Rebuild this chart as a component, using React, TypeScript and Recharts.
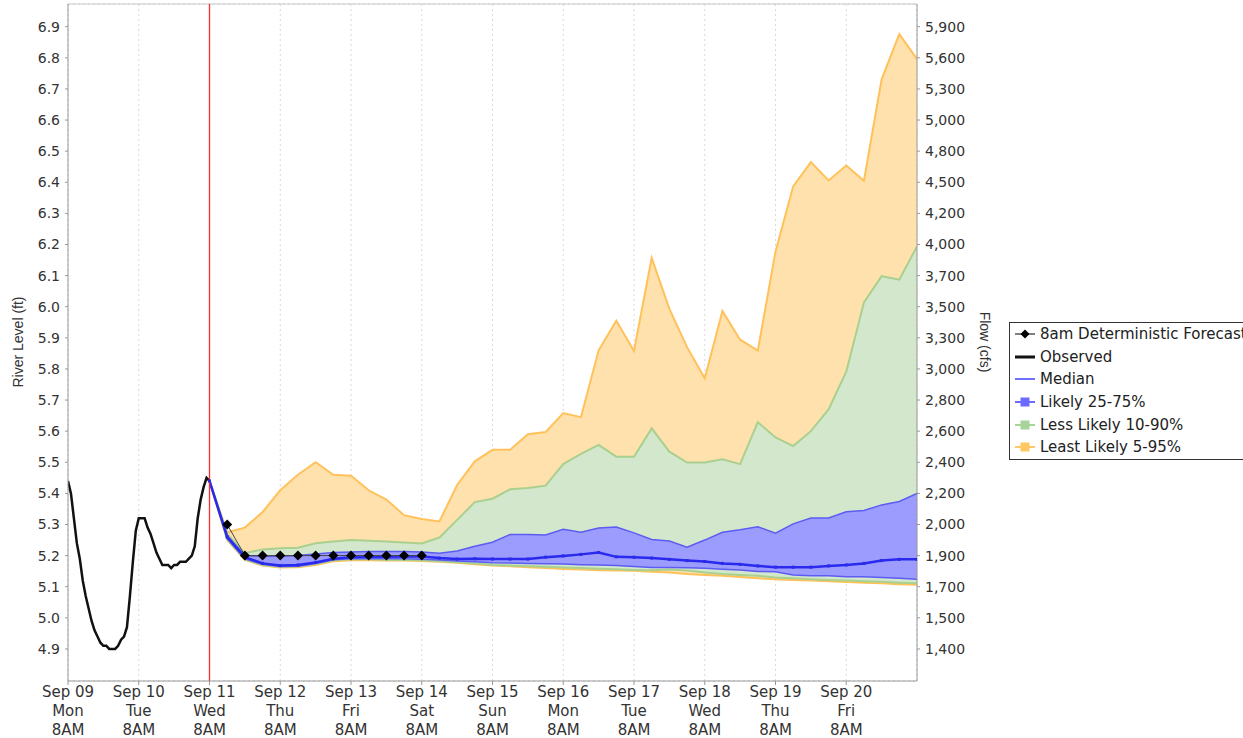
import React from 'react';
import {
  ComposedChart,
  Line,
  Area,
  XAxis,
  YAxis,
  CartesianGrid,
  ReferenceLine,
} from 'recharts';

// ---- Tick labels ----
const dateLabels = ['Sep 09', 'Sep 10', 'Sep 11', 'Sep 12', 'Sep 13', 'Sep 14', 'Sep 15', 'Sep 16', 'Sep 17', 'Sep 18', 'Sep 19', 'Sep 20'];
const dayLabels = ['Mon', 'Tue', 'Wed', 'Thu', 'Fri', 'Sat', 'Sun', 'Mon', 'Tue', 'Wed', 'Thu', 'Fri'];
const timeLabel = '8AM';
const dayTicks = [0, 24, 48, 72, 96, 120, 144, 168, 192, 216, 240, 264];
const levelTicks = [4.9, 5.0, 5.1, 5.2, 5.3, 5.4, 5.5, 5.6, 5.7, 5.8, 5.9, 6.0, 6.1, 6.2, 6.3, 6.4, 6.5, 6.6, 6.7, 6.8, 6.9];
const flowLabels = ['1,400', '1,500', '1,700', '1,900', '2,000', '2,200', '2,400', '2,600', '2,800', '3,000', '3,300', '3,500', '3,700', '4,000', '4,200', '4,500', '4,800', '5,000', '5,300', '5,600', '5,900'];

// ---- Observed river level, hourly from Sep 09 8AM ----
const observed = [
  5.44, 5.40, 5.32, 5.24, 5.19, 5.12, 5.07, 5.03, 4.99, 4.96, 4.94, 4.92, 4.91, 4.91, 4.90, 4.90, 4.90,
  4.91, 4.93, 4.94, 4.97, 5.07, 5.18, 5.28, 5.32, 5.32, 5.32, 5.29, 5.27, 5.24, 5.21, 5.19, 5.17, 5.17,
  5.17, 5.16, 5.17, 5.17, 5.18, 5.18, 5.18, 5.19, 5.20, 5.23, 5.32, 5.38, 5.42, 5.45, 5.44,
];

// ---- 8am deterministic forecast, every 6 h from Sep 11 2PM ----
const deterministic = [5.30, 5.20, 5.20, 5.20, 5.20, 5.20, 5.20, 5.20, 5.20, 5.20, 5.20, 5.20];

// ---- Ensemble percentiles, every 6 h from Sep 11 8AM ----
const p95 = [
  5.44, 5.275, 5.29, 5.34, 5.41, 5.46, 5.50, 5.46, 5.457, 5.41, 5.38, 5.33, 5.318, 5.31, 5.427, 5.503,
  5.54, 5.54, 5.59, 5.597, 5.658, 5.645, 5.86, 5.955, 5.858, 6.157, 5.993, 5.87, 5.77, 5.986, 5.894,
  5.859, 6.177, 6.387, 6.465, 6.406, 6.454, 6.405, 6.731, 6.876, 6.796,
];
const p90 = [
  5.44, 5.27, 5.208, 5.22, 5.224, 5.225, 5.24, 5.245, 5.25, 5.248, 5.245, 5.242, 5.239, 5.258, 5.315,
  5.372, 5.383, 5.413, 5.417, 5.425, 5.494, 5.527, 5.556, 5.518, 5.518, 5.609, 5.534, 5.499, 5.499, 5.51,
  5.494, 5.629, 5.58, 5.552, 5.6, 5.67, 5.791, 6.014, 6.098, 6.087, 6.194,
];
const p75 = [
  5.44, 5.265, 5.20, 5.198, 5.198, 5.20, 5.205, 5.21, 5.212, 5.213, 5.213, 5.213, 5.212, 5.208, 5.215,
  5.23, 5.243, 5.268, 5.268, 5.266, 5.285, 5.275, 5.289, 5.292, 5.273, 5.252, 5.247, 5.227, 5.25, 5.275,
  5.283, 5.293, 5.272, 5.302, 5.321, 5.321, 5.341, 5.345, 5.363, 5.374, 5.40,
];
const p50 = [
  5.44, 5.26, 5.195, 5.175, 5.168, 5.17, 5.178, 5.19, 5.195, 5.196, 5.196, 5.197, 5.197, 5.192, 5.189,
  5.19, 5.189, 5.189, 5.189, 5.195, 5.199, 5.204, 5.21, 5.196, 5.195, 5.192, 5.188, 5.184, 5.181, 5.175,
  5.172, 5.167, 5.163, 5.163, 5.163, 5.167, 5.17, 5.175, 5.184, 5.188, 5.188,
];
const p25 = [
  5.44, 5.255, 5.19, 5.172, 5.165, 5.166, 5.175, 5.187, 5.19, 5.19, 5.19, 5.19, 5.188, 5.186, 5.183,
  5.18, 5.177, 5.176, 5.175, 5.174, 5.173, 5.171, 5.17, 5.168, 5.165, 5.162, 5.162, 5.161, 5.159, 5.156,
  5.154, 5.149, 5.148, 5.138, 5.135, 5.135, 5.132, 5.132, 5.13, 5.127, 5.124,
];
const p10 = [
  5.44, 5.253, 5.188, 5.17, 5.164, 5.165, 5.173, 5.185, 5.188, 5.188, 5.187, 5.186, 5.185, 5.182, 5.179,
  5.175, 5.17, 5.168, 5.166, 5.164, 5.162, 5.16, 5.158, 5.156, 5.154, 5.153, 5.155, 5.152, 5.146, 5.141,
  5.138, 5.135, 5.13, 5.127, 5.124, 5.122, 5.12, 5.118, 5.116, 5.113, 5.111,
];
const p5 = [
  5.44, 5.25, 5.186, 5.168, 5.162, 5.163, 5.17, 5.182, 5.185, 5.185, 5.184, 5.184, 5.183, 5.18, 5.177,
  5.172, 5.168, 5.166, 5.163, 5.16, 5.157, 5.155, 5.153, 5.152, 5.151, 5.148, 5.146, 5.141, 5.138, 5.135,
  5.131, 5.127, 5.124, 5.122, 5.12, 5.118, 5.115, 5.113, 5.111, 5.108, 5.106,
];

const NOW_HOUR = 48;
const DET_START = 54;
const STEP = 6;

// Per-series tables (x = hours since Sep 09 8AM)
const observedData = observed.map((v, i) => ({ h: i, obs: v }));
const bandData = p50.map((v, i) => ({
  h: NOW_HOUR + STEP * i,
  med: v,
  b5: [p5[i], p95[i]],
  b10: [p10[i], p90[i]],
  b25: [p25[i], p75[i]],
}));
const detData = deterministic.map((v, i) => ({ h: DET_START + STEP * i, det: v }));

const Y_MIN = 4.797;
const Y_MAX = 6.973;
const FONT = '"DejaVu Sans", sans-serif';
const TEXT = '#333';

const Diamond = (props: any) => {
  const { cx, cy } = props;
  if (cx == null || cy == null || props.value == null) return null;
  const s = 5;
  return <polygon points={`${cx},${cy - s} ${cx + s},${cy} ${cx},${cy + s} ${cx - s},${cy}`} fill="#000" />;
};

const SmallSquare = (props: any) => {
  const { cx, cy } = props;
  if (cx == null || cy == null || props.value == null) return null;
  return <rect x={cx - 1.5} y={cy - 1.5} width={3} height={3} fill="#2a2ae8" />;
};

const XTick = (props: any) => {
  const { x, y, index } = props;
  return (
    <text x={x} y={y} textAnchor="middle" fill={TEXT} fontFamily={FONT} fontSize={15}>
      <tspan x={x} dy="0.71em">{dateLabels[index]}</tspan>
      <tspan x={x} dy={19.5}>{dayLabels[index]}</tspan>
      <tspan x={x} dy={18.5}>{timeLabel}</tspan>
    </text>
  );
};

const LeftLabel = () => (
  <text x={18} y={342} transform="rotate(-90 18 342)" textAnchor="middle" dominantBaseline="central" fill={TEXT} fontFamily='"Liberation Sans", sans-serif' fontSize={14}>
    River Level (ft)
  </text>
);
const RightLabel = () => (
  <text x={985} y={342} transform="rotate(90 985 342)" textAnchor="middle" dominantBaseline="central" fill={TEXT} fontFamily='"Liberation Sans", sans-serif' fontSize={14}>
    Flow (cfs)
  </text>
);

const NowLine = (props: any) => {
  const { x1, y1, x2, y2 } = props;
  if (x1 == null) return null;
  return <line x1={x1} y1={y1} x2={x2} y2={y2} stroke="#ff2a2a" strokeWidth={1.3} />;
};

const legendItems = [
  { label: '8am Deterministic Forecast', kind: 'diamond', color: '#000' },
  { label: 'Observed', kind: 'thick', color: '#111' },
  { label: 'Median', kind: 'line', color: '#7070ff' },
  { label: 'Likely 25-75%', kind: 'square', color: '#6b6bff' },
  { label: 'Less Likely 10-90%', kind: 'square', color: '#a8d49a' },
  { label: 'Least Likely 5-95%', kind: 'square', color: '#ffc864' },
];

const LegendBox = () => (
  <div
    style={{
      position: 'absolute',
      left: 1009,
      top: 322,
      border: '1px solid #333',
      background: '#fff',
      width: 250,
      fontFamily: FONT,
      fontSize: 15,
      color: '#222',
      boxSizing: 'border-box',
    }}
  >
    {legendItems.map((it) => (
      <div key={it.label} style={{ height: 22.6, display: 'flex', alignItems: 'center', whiteSpace: 'nowrap' }}>
        <svg width={26} height={12} style={{ marginLeft: 3, marginRight: 1, flex: 'none' }}>
          {it.kind === 'diamond' && (
            <>
              <line x1={2} y1={6} x2={22} y2={6} stroke="#000" strokeWidth={1} />
              <polygon points="12,1.5 16.5,6 12,10.5 7.5,6" fill="#000" />
            </>
          )}
          {it.kind === 'thick' && <line x1={2} y1={6} x2={22} y2={6} stroke={it.color} strokeWidth={3} />}
          {it.kind === 'line' && <line x1={2} y1={6} x2={22} y2={6} stroke={it.color} strokeWidth={2} />}
          {it.kind === 'square' && (
            <>
              <line x1={2} y1={6} x2={22} y2={6} stroke={it.color} strokeWidth={2} />
              <rect x={7.5} y={1.5} width={9} height={9} fill={it.color} />
            </>
          )}
        </svg>
        <span>{it.label}</span>
      </div>
    ))}
  </div>
);

export default function App() {
  return (
    <div style={{ position: 'absolute', left: 0, top: 0, width: 1243, height: 738, overflow: 'hidden', background: '#fff' }}>
      <ComposedChart
        width={1243}
        height={738}
        margin={{ top: 4, right: 236, bottom: 0, left: 0 }}
        style={{ fontFamily: FONT }}
      >
        <CartesianGrid stroke="#d8d8d8" strokeDasharray="2 3" />
        <XAxis
          dataKey="h"
          type="number"
          domain={[0, 288]}
          ticks={dayTicks}
          height={57}
          tickSize={4}
          tickMargin={1}
          tick={<XTick />}
          stroke="#999"
          allowDataOverflow
        />
        <YAxis
          yAxisId="left"
          domain={[Y_MIN, Y_MAX]}
          ticks={levelTicks}
          width={68}
          tickSize={3}
          tickMargin={5}
          stroke="#999"
          allowDataOverflow
          tickFormatter={(v: number) => v.toFixed(1)}
          tick={{ fill: TEXT, fontSize: 14, fontFamily: FONT }}
          label={<LeftLabel />}
        />
        <YAxis
          yAxisId="right"
          orientation="right"
          domain={[Y_MIN, Y_MAX]}
          ticks={levelTicks}
          width={90}
          tickSize={3}
          tickMargin={5}
          stroke="#999"
          allowDataOverflow
          tickFormatter={(v: number) => flowLabels[Math.round((v - 4.9) * 10)]}
          tick={{ fill: TEXT, fontSize: 14, fontFamily: FONT, textAnchor: 'start' }}
          label={<RightLabel />}
        />
        <ReferenceLine yAxisId="right" y={Y_MAX} stroke="#c8c8c8" />
        <Area
          yAxisId="left"
          data={bandData}
          dataKey="b5"
          type="linear"
          stroke="#ffc25a"
          strokeWidth={2}
          fill="#ffe1ad"
          fillOpacity={1}
          dot={false}
          activeDot={false}
          isAnimationActive={false}
        />
        <Area
          yAxisId="left"
          data={bandData}
          dataKey="b10"
          type="linear"
          stroke="#a9d08f"
          strokeWidth={2}
          fill="#d3e7cc"
          fillOpacity={1}
          dot={false}
          activeDot={false}
          isAnimationActive={false}
        />
        <Area
          yAxisId="left"
          data={bandData}
          dataKey="b25"
          type="linear"
          stroke="#5c5cf2"
          strokeWidth={1.5}
          fill="#9c9cff"
          fillOpacity={1}
          dot={false}
          activeDot={false}
          isAnimationActive={false}
        />
        <Line
          yAxisId="left"
          data={bandData}
          dataKey="med"
          type="linear"
          stroke="#2a2aee"
          strokeWidth={2.5}
          dot={<SmallSquare />}
          activeDot={false}
          isAnimationActive={false}
        />
        <Line
          yAxisId="left"
          data={observedData}
          dataKey="obs"
          type="linear"
          stroke="#111"
          strokeWidth={2.5}
          dot={false}
          activeDot={false}
          isAnimationActive={false}
        />
        <Line
          yAxisId="left"
          data={detData}
          dataKey="det"
          type="linear"
          stroke="#444"
          strokeWidth={1}
          dot={<Diamond />}
          activeDot={false}
          isAnimationActive={false}
        />
        <ReferenceLine yAxisId="left" x={NOW_HOUR} stroke="#ff2a2a" shape={<NowLine />} />
      </ComposedChart>
      <LegendBox />
    </div>
  );
}
